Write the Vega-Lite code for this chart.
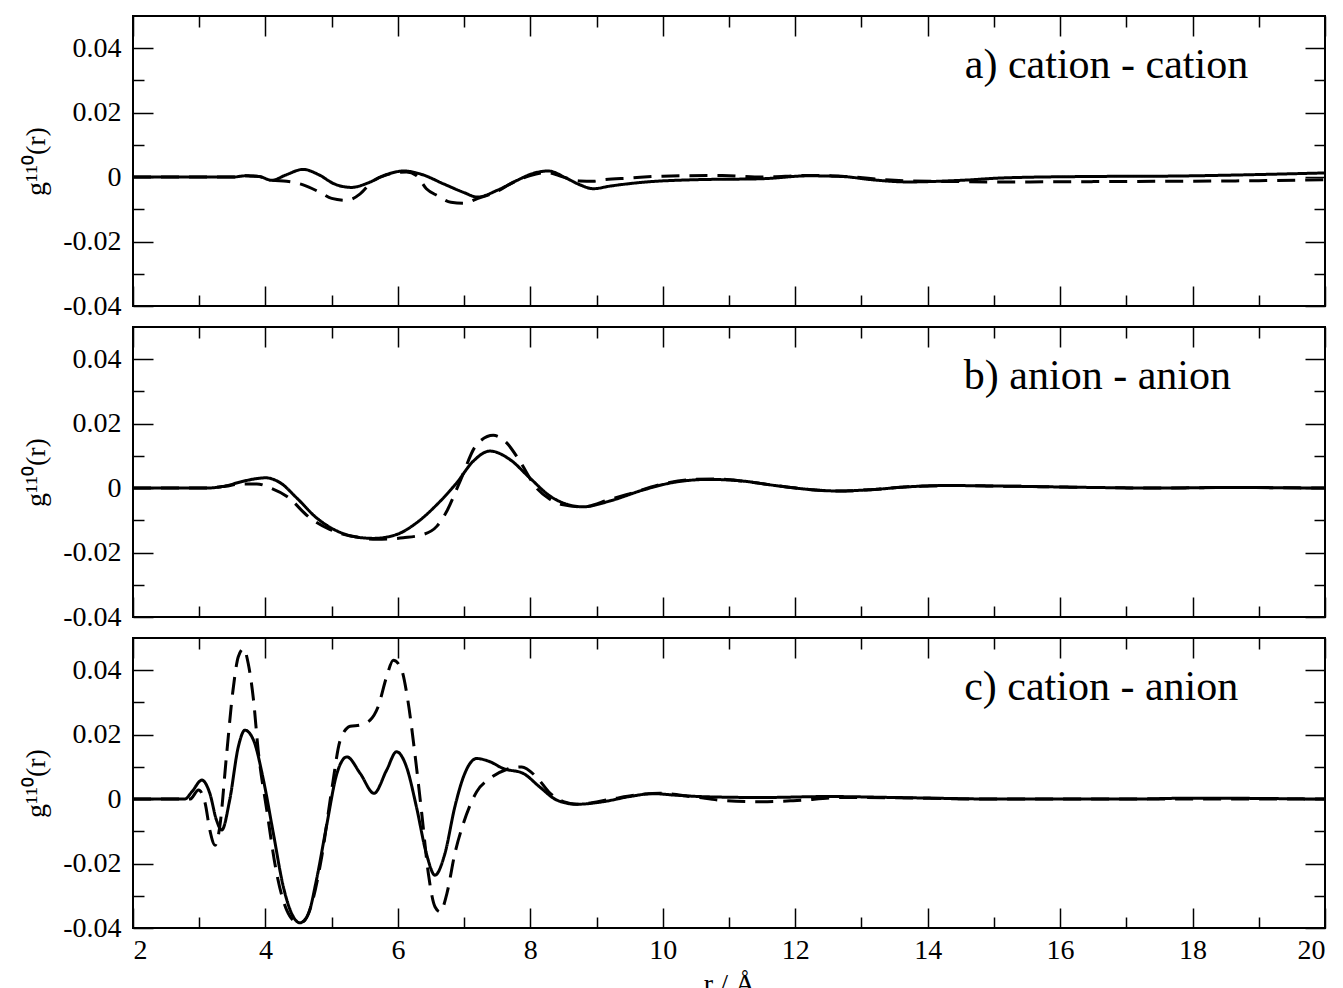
{
"$schema":"https://vega.github.io/schema/vega-lite/v6.json",
"padding":{"left":21,"top":14,"right":16,"bottom":10},
"background":"white",
"datasets":{
"labels":[
{"p":"a","label":"a) cation - cation","r":18.84,"g":0.0348},
{"p":"b","label":"b) anion - anion","r":18.58,"g":0.0348},
{"p":"c","label":"c) cation - anion","r":18.69,"g":0.0348}
],
"curves":[
{"p":"a","s":"solid","r":2,"g":0},{"p":"a","s":"solid","r":3.5,"g":0},{"p":"a","s":"solid","r":3.7,"g":0.0004},{"p":"a","s":"solid","r":3.9,"g":0.0002},{"p":"a","s":"solid","r":4.1,"g":-0.001},{"p":"a","s":"solid","r":4.3,"g":0.0006},{"p":"a","s":"solid","r":4.57,"g":0.0024},{"p":"a","s":"solid","r":4.8,"g":0.0008},{"p":"a","s":"solid","r":5.05,"g":-0.0022},{"p":"a","s":"solid","r":5.3,"g":-0.0032},{"p":"a","s":"solid","r":5.55,"g":-0.0018},{"p":"a","s":"solid","r":5.8,"g":0.0006},{"p":"a","s":"solid","r":6.1,"g":0.0019},{"p":"a","s":"solid","r":6.35,"g":0.0009},{"p":"a","s":"solid","r":6.7,"g":-0.0022},{"p":"a","s":"solid","r":7.0,"g":-0.0048},{"p":"a","s":"solid","r":7.2,"g":-0.0062},{"p":"a","s":"solid","r":7.5,"g":-0.0041},{"p":"a","s":"solid","r":7.8,"g":-0.001},{"p":"a","s":"solid","r":8.05,"g":0.0012},{"p":"a","s":"solid","r":8.27,"g":0.0019},{"p":"a","s":"solid","r":8.55,"g":-0.0004},{"p":"a","s":"solid","r":8.75,"g":-0.0024},{"p":"a","s":"solid","r":8.95,"g":-0.0036},{"p":"a","s":"solid","r":9.2,"g":-0.0028},{"p":"a","s":"solid","r":9.7,"g":-0.0016},{"p":"a","s":"solid","r":10.5,"g":-0.0008},{"p":"a","s":"solid","r":11.5,"g":-0.0005},{"p":"a","s":"solid","r":12.2,"g":0.0004},{"p":"a","s":"solid","r":12.7,"g":0.0002},{"p":"a","s":"solid","r":13.2,"g":-0.0009},{"p":"a","s":"solid","r":13.7,"g":-0.0015},{"p":"a","s":"solid","r":14.5,"g":-0.001},{"p":"a","s":"solid","r":15.2,"g":-0.0002},{"p":"a","s":"solid","r":16.5,"g":0.0002},{"p":"a","s":"solid","r":17.6,"g":0.0003},{"p":"a","s":"solid","r":19,"g":0.0008},{"p":"a","s":"solid","r":20,"g":0.0013},
{"p":"a","s":"dashed","r":2,"g":0},{"p":"a","s":"dashed","r":3.5,"g":0},{"p":"a","s":"dashed","r":3.7,"g":0.0004},{"p":"a","s":"dashed","r":3.9,"g":0.0002},{"p":"a","s":"dashed","r":4.1,"g":-0.001},{"p":"a","s":"dashed","r":4.32,"g":-0.0013},{"p":"a","s":"dashed","r":4.57,"g":-0.0024},{"p":"a","s":"dashed","r":4.82,"g":-0.0047},{"p":"a","s":"dashed","r":5.0,"g":-0.0066},{"p":"a","s":"dashed","r":5.23,"g":-0.0072},{"p":"a","s":"dashed","r":5.43,"g":-0.0052},{"p":"a","s":"dashed","r":5.6,"g":-0.0016},{"p":"a","s":"dashed","r":5.83,"g":0.0007},{"p":"a","s":"dashed","r":6.13,"g":0.0016},{"p":"a","s":"dashed","r":6.28,"g":0.0005},{"p":"a","s":"dashed","r":6.43,"g":-0.0036},{"p":"a","s":"dashed","r":6.6,"g":-0.0058},{"p":"a","s":"dashed","r":6.8,"g":-0.0078},{"p":"a","s":"dashed","r":7.0,"g":-0.0081},{"p":"a","s":"dashed","r":7.2,"g":-0.0067},{"p":"a","s":"dashed","r":7.5,"g":-0.0044},{"p":"a","s":"dashed","r":7.7,"g":-0.0021},{"p":"a","s":"dashed","r":8.0,"g":0.0005},{"p":"a","s":"dashed","r":8.25,"g":0.0014},{"p":"a","s":"dashed","r":8.5,"g":0},{"p":"a","s":"dashed","r":8.75,"g":-0.0012},{"p":"a","s":"dashed","r":8.95,"g":-0.0013},{"p":"a","s":"dashed","r":9.1,"g":-0.0008},{"p":"a","s":"dashed","r":9.5,"g":-0.0003},{"p":"a","s":"dashed","r":10.0,"g":0.0003},{"p":"a","s":"dashed","r":10.9,"g":0.0005},{"p":"a","s":"dashed","r":11.5,"g":0},{"p":"a","s":"dashed","r":12.2,"g":0.0005},{"p":"a","s":"dashed","r":12.7,"g":0.0003},{"p":"a","s":"dashed","r":13.5,"g":-0.001},{"p":"a","s":"dashed","r":14.5,"g":-0.0014},{"p":"a","s":"dashed","r":15.2,"g":-0.0015},{"p":"a","s":"dashed","r":16.5,"g":-0.0014},{"p":"a","s":"dashed","r":17.6,"g":-0.0013},{"p":"a","s":"dashed","r":19,"g":-0.0011},{"p":"a","s":"dashed","r":20,"g":-0.0008},
{"p":"b","s":"solid","r":2,"g":0},{"p":"b","s":"solid","r":3.1,"g":0},{"p":"b","s":"solid","r":3.4,"g":0.0007},{"p":"b","s":"solid","r":3.62,"g":0.0019},{"p":"b","s":"solid","r":3.85,"g":0.0029},{"p":"b","s":"solid","r":4.0,"g":0.0032},{"p":"b","s":"solid","r":4.22,"g":0.0017},{"p":"b","s":"solid","r":4.47,"g":-0.003},{"p":"b","s":"solid","r":4.77,"g":-0.0092},{"p":"b","s":"solid","r":5.08,"g":-0.0133},{"p":"b","s":"solid","r":5.38,"g":-0.0152},{"p":"b","s":"solid","r":5.63,"g":-0.0156},{"p":"b","s":"solid","r":5.98,"g":-0.0144},{"p":"b","s":"solid","r":6.28,"g":-0.0108},{"p":"b","s":"solid","r":6.59,"g":-0.0051},{"p":"b","s":"solid","r":6.89,"g":0.0017},{"p":"b","s":"solid","r":7.14,"g":0.0084},{"p":"b","s":"solid","r":7.39,"g":0.0115},{"p":"b","s":"solid","r":7.69,"g":0.0089},{"p":"b","s":"solid","r":7.99,"g":0.0032},{"p":"b","s":"solid","r":8.3,"g":-0.0025},{"p":"b","s":"solid","r":8.55,"g":-0.005},{"p":"b","s":"solid","r":8.8,"g":-0.0058},{"p":"b","s":"solid","r":9.2,"g":-0.004},{"p":"b","s":"solid","r":9.7,"g":-0.0006},{"p":"b","s":"solid","r":10.2,"g":0.0019},{"p":"b","s":"solid","r":10.7,"g":0.0027},{"p":"b","s":"solid","r":11.2,"g":0.0022},{"p":"b","s":"solid","r":11.7,"g":0.0008},{"p":"b","s":"solid","r":12.2,"g":-0.0004},{"p":"b","s":"solid","r":12.65,"g":-0.0009},{"p":"b","s":"solid","r":13.2,"g":-0.0004},{"p":"b","s":"solid","r":13.7,"g":0.0004},{"p":"b","s":"solid","r":14.3,"g":0.0008},{"p":"b","s":"solid","r":15.2,"g":0.0006},{"p":"b","s":"solid","r":16.5,"g":0.0002},{"p":"b","s":"solid","r":17.5,"g":0},{"p":"b","s":"solid","r":18.5,"g":0.0002},{"p":"b","s":"solid","r":20,"g":0},
{"p":"b","s":"dashed","r":2,"g":0},{"p":"b","s":"dashed","r":3.1,"g":0},{"p":"b","s":"dashed","r":3.4,"g":0.0006},{"p":"b","s":"dashed","r":3.62,"g":0.0013},{"p":"b","s":"dashed","r":3.87,"g":0.0013},{"p":"b","s":"dashed","r":4.07,"g":0.0001},{"p":"b","s":"dashed","r":4.32,"g":-0.0025},{"p":"b","s":"dashed","r":4.67,"g":-0.0092},{"p":"b","s":"dashed","r":4.97,"g":-0.0128},{"p":"b","s":"dashed","r":5.38,"g":-0.0152},{"p":"b","s":"dashed","r":5.68,"g":-0.0159},{"p":"b","s":"dashed","r":6.08,"g":-0.0154},{"p":"b","s":"dashed","r":6.38,"g":-0.0144},{"p":"b","s":"dashed","r":6.59,"g":-0.0118},{"p":"b","s":"dashed","r":6.74,"g":-0.0071},{"p":"b","s":"dashed","r":6.94,"g":0.0022},{"p":"b","s":"dashed","r":7.19,"g":0.0135},{"p":"b","s":"dashed","r":7.44,"g":0.0164},{"p":"b","s":"dashed","r":7.64,"g":0.0141},{"p":"b","s":"dashed","r":7.84,"g":0.0084},{"p":"b","s":"dashed","r":8.09,"g":0.0001},{"p":"b","s":"dashed","r":8.3,"g":-0.0035},{"p":"b","s":"dashed","r":8.5,"g":-0.0052},{"p":"b","s":"dashed","r":8.8,"g":-0.0058},{"p":"b","s":"dashed","r":9.2,"g":-0.0035},{"p":"b","s":"dashed","r":9.46,"g":-0.002},{"p":"b","s":"dashed","r":9.96,"g":0.0011},{"p":"b","s":"dashed","r":10.46,"g":0.0027},{"p":"b","s":"dashed","r":10.8,"g":0.0028},{"p":"b","s":"dashed","r":11.2,"g":0.0022},{"p":"b","s":"dashed","r":11.7,"g":0.0008},{"p":"b","s":"dashed","r":12.2,"g":-0.0004},{"p":"b","s":"dashed","r":12.65,"g":-0.0009},{"p":"b","s":"dashed","r":13.2,"g":-0.0004},{"p":"b","s":"dashed","r":13.7,"g":0.0004},{"p":"b","s":"dashed","r":14.3,"g":0.0008},{"p":"b","s":"dashed","r":15.2,"g":0.0006},{"p":"b","s":"dashed","r":16.5,"g":0.0002},{"p":"b","s":"dashed","r":17.5,"g":0},{"p":"b","s":"dashed","r":18.5,"g":0.0002},{"p":"b","s":"dashed","r":20,"g":0},
{"p":"c","s":"solid","r":2,"g":0},{"p":"c","s":"solid","r":2.78,"g":0},{"p":"c","s":"solid","r":2.89,"g":0.0023},{"p":"c","s":"solid","r":3.04,"g":0.0059},{"p":"c","s":"solid","r":3.16,"g":0.0018},{"p":"c","s":"solid","r":3.26,"g":-0.0065},{"p":"c","s":"solid","r":3.34,"g":-0.0096},{"p":"c","s":"solid","r":3.46,"g":-0.0003},{"p":"c","s":"solid","r":3.59,"g":0.0162},{"p":"c","s":"solid","r":3.69,"g":0.0214},{"p":"c","s":"solid","r":3.82,"g":0.0183},{"p":"c","s":"solid","r":3.97,"g":0.0059},{"p":"c","s":"solid","r":4.12,"g":-0.0107},{"p":"c","s":"solid","r":4.27,"g":-0.0272},{"p":"c","s":"solid","r":4.42,"g":-0.0365},{"p":"c","s":"solid","r":4.52,"g":-0.0384},{"p":"c","s":"solid","r":4.65,"g":-0.0355},{"p":"c","s":"solid","r":4.77,"g":-0.0251},{"p":"c","s":"solid","r":4.92,"g":-0.0086},{"p":"c","s":"solid","r":5.08,"g":0.008},{"p":"c","s":"solid","r":5.23,"g":0.0131},{"p":"c","s":"solid","r":5.43,"g":0.008},{"p":"c","s":"solid","r":5.64,"g":0.0018},{"p":"c","s":"solid","r":5.83,"g":0.009},{"p":"c","s":"solid","r":5.98,"g":0.0147},{"p":"c","s":"solid","r":6.13,"g":0.01},{"p":"c","s":"solid","r":6.28,"g":-0.0024},{"p":"c","s":"solid","r":6.43,"g":-0.0169},{"p":"c","s":"solid","r":6.56,"g":-0.0236},{"p":"c","s":"solid","r":6.71,"g":-0.0169},{"p":"c","s":"solid","r":6.86,"g":-0.0024},{"p":"c","s":"solid","r":6.99,"g":0.0069},{"p":"c","s":"solid","r":7.19,"g":0.0126},{"p":"c","s":"solid","r":7.39,"g":0.0116},{"p":"c","s":"solid","r":7.59,"g":0.0095},{"p":"c","s":"solid","r":7.89,"g":0.008},{"p":"c","s":"solid","r":8.14,"g":0.0038},{"p":"c","s":"solid","r":8.4,"g":-0.0003},{"p":"c","s":"solid","r":8.7,"g":-0.0016},{"p":"c","s":"solid","r":9.1,"g":-0.0008},{"p":"c","s":"solid","r":9.5,"g":0.0008},{"p":"c","s":"solid","r":9.85,"g":0.0017},{"p":"c","s":"solid","r":10.2,"g":0.0012},{"p":"c","s":"solid","r":10.7,"g":0.0007},{"p":"c","s":"solid","r":11.5,"g":0.0005},{"p":"c","s":"solid","r":12.5,"g":0.0008},{"p":"c","s":"solid","r":13.5,"g":0.0005},{"p":"c","s":"solid","r":15.2,"g":0},{"p":"c","s":"solid","r":17,"g":0},{"p":"c","s":"solid","r":18,"g":0.0003},{"p":"c","s":"solid","r":20,"g":0},
{"p":"c","s":"dashed","r":2,"g":0},{"p":"c","s":"dashed","r":2.86,"g":0},{"p":"c","s":"dashed","r":2.99,"g":0.0028},{"p":"c","s":"dashed","r":3.09,"g":-0.0013},{"p":"c","s":"dashed","r":3.16,"g":-0.0096},{"p":"c","s":"dashed","r":3.24,"g":-0.0143},{"p":"c","s":"dashed","r":3.31,"g":-0.0086},{"p":"c","s":"dashed","r":3.41,"g":0.0131},{"p":"c","s":"dashed","r":3.51,"g":0.0338},{"p":"c","s":"dashed","r":3.59,"g":0.0442},{"p":"c","s":"dashed","r":3.67,"g":0.0467},{"p":"c","s":"dashed","r":3.74,"g":0.0421},{"p":"c","s":"dashed","r":3.82,"g":0.0307},{"p":"c","s":"dashed","r":3.89,"g":0.0152},{"p":"c","s":"dashed","r":4.02,"g":-0.0034},{"p":"c","s":"dashed","r":4.17,"g":-0.0231},{"p":"c","s":"dashed","r":4.32,"g":-0.0344},{"p":"c","s":"dashed","r":4.47,"g":-0.038},{"p":"c","s":"dashed","r":4.57,"g":-0.038},{"p":"c","s":"dashed","r":4.7,"g":-0.0324},{"p":"c","s":"dashed","r":4.85,"g":-0.0179},{"p":"c","s":"dashed","r":5.0,"g":0.0028},{"p":"c","s":"dashed","r":5.13,"g":0.0183},{"p":"c","s":"dashed","r":5.28,"g":0.0226},{"p":"c","s":"dashed","r":5.43,"g":0.023},{"p":"c","s":"dashed","r":5.58,"g":0.0245},{"p":"c","s":"dashed","r":5.7,"g":0.0286},{"p":"c","s":"dashed","r":5.83,"g":0.038},{"p":"c","s":"dashed","r":5.93,"g":0.0431},{"p":"c","s":"dashed","r":6.05,"g":0.0405},{"p":"c","s":"dashed","r":6.15,"g":0.0307},{"p":"c","s":"dashed","r":6.25,"g":0.0152},{"p":"c","s":"dashed","r":6.36,"g":-0.0044},{"p":"c","s":"dashed","r":6.46,"g":-0.0231},{"p":"c","s":"dashed","r":6.56,"g":-0.0334},{"p":"c","s":"dashed","r":6.64,"g":-0.035},{"p":"c","s":"dashed","r":6.74,"g":-0.0293},{"p":"c","s":"dashed","r":6.86,"g":-0.0169},{"p":"c","s":"dashed","r":6.99,"g":-0.0075},{"p":"c","s":"dashed","r":7.19,"g":0.0023},{"p":"c","s":"dashed","r":7.39,"g":0.0064},{"p":"c","s":"dashed","r":7.64,"g":0.0092},{"p":"c","s":"dashed","r":7.87,"g":0.01},{"p":"c","s":"dashed","r":8.09,"g":0.0069},{"p":"c","s":"dashed","r":8.3,"g":0.0018},{"p":"c","s":"dashed","r":8.5,"g":-0.0008},{"p":"c","s":"dashed","r":8.7,"g":-0.0016},{"p":"c","s":"dashed","r":9.2,"g":-0.0001},{"p":"c","s":"dashed","r":9.56,"g":0.0012},{"p":"c","s":"dashed","r":9.96,"g":0.0018},{"p":"c","s":"dashed","r":10.46,"g":0.0007},{"p":"c","s":"dashed","r":10.96,"g":-0.0005},{"p":"c","s":"dashed","r":11.47,"g":-0.0008},{"p":"c","s":"dashed","r":11.97,"g":-0.0005},{"p":"c","s":"dashed","r":12.73,"g":0.0005},{"p":"c","s":"dashed","r":13.48,"g":0.0004},{"p":"c","s":"dashed","r":15,"g":0},{"p":"c","s":"dashed","r":17,"g":0},{"p":"c","s":"dashed","r":20,"g":0}
]
},
"spacing":4,
"vconcat":[
{"width":1192,"height":290,
 "layer":[
  {"data":{"name":"curves"},"transform":[{"filter":"datum.p==='a'"}],
   "mark":{"type":"line","interpolate":"monotone","strokeWidth":3,"color":"black"},
   "encoding":{
    "x":{"field":"r","type":"quantitative","scale":{"domain":[2,20],"nice":false,"zero":false},"axis":{"orient":"bottom","values":[2,4,6,8,10,12,14,16,18,20],"tickSize":-20,"labels":false,"title":null}},
    "y":{"field":"g","type":"quantitative","scale":{"domain":[-0.04,0.05],"nice":false,"zero":false},"axis":{"orient":"left","values":[-0.04,-0.02,0,0.02,0.04],"tickSize":-20,"labelPadding":32,"labelExpr":"datum.value == 0 ? '0' : (datum.value < 0 ? '-' + format(-datum.value, '.2f') : format(datum.value, '.2f'))","title":"g¹¹⁰(r)","titlePadding":12}},
    "strokeDash":{"field":"s","type":"nominal","scale":{"domain":["solid","dashed"],"range":[[1,0],[18,10]]},"legend":null}}},
  {"data":{"name":"labels"},"transform":[{"filter":"datum.p==='a'"}],
   "mark":{"type":"text","align":"right","baseline":"middle","font":"Liberation Serif","fontSize":42,"color":"black"},
   "encoding":{
    "x":{"field":"r","type":"quantitative","scale":{"domain":[2,20],"nice":false,"zero":false},"axis":{"orient":"top","values":[2,4,6,8,10,12,14,16,18,20],"tickSize":-20,"labels":false,"title":null}},
    "y":{"field":"g","type":"quantitative","scale":{"domain":[-0.04,0.05],"nice":false,"zero":false},"axis":{"orient":"right","values":[-0.04,-0.02,0,0.02,0.04],"tickSize":-20,"labels":false,"title":null}},
    "text":{"field":"label"}}},
  {"data":{"name":"labels"},"transform":[{"filter":"datum.p==='a'"}],
   "mark":{"type":"point","opacity":0},
   "encoding":{
    "x":{"field":"r","type":"quantitative","scale":{"domain":[2,20],"nice":false,"zero":false},"axis":{"orient":"bottom","values":[3,5,7,9,11,13,15,17,19],"tickSize":-11,"labels":false,"title":null}},
    "y":{"field":"g","type":"quantitative","scale":{"domain":[-0.04,0.05],"nice":false,"zero":false},"axis":{"orient":"left","values":[-0.03,-0.01,0.01,0.03],"tickSize":-11,"labels":false,"title":null}}}},
  {"data":{"name":"labels"},"transform":[{"filter":"datum.p==='a'"}],
   "mark":{"type":"point","opacity":0},
   "encoding":{
    "x":{"field":"r","type":"quantitative","scale":{"domain":[2,20],"nice":false,"zero":false},"axis":{"orient":"top","values":[3,5,7,9,11,13,15,17,19],"tickSize":-11,"labels":false,"title":null}},
    "y":{"field":"g","type":"quantitative","scale":{"domain":[-0.04,0.05],"nice":false,"zero":false},"axis":{"orient":"right","values":[-0.03,-0.01,0.01,0.03],"tickSize":-11,"labels":false,"title":null}}}}
 ],
 "resolve":{"axis":{"x":"independent","y":"independent"}}
},
{"width":1192,"height":290,
 "layer":[
  {"data":{"name":"curves"},"transform":[{"filter":"datum.p==='b'"}],
   "mark":{"type":"line","interpolate":"monotone","strokeWidth":3,"color":"black"},
   "encoding":{
    "x":{"field":"r","type":"quantitative","scale":{"domain":[2,20],"nice":false,"zero":false},"axis":{"orient":"bottom","values":[2,4,6,8,10,12,14,16,18,20],"tickSize":-20,"labels":false,"title":null}},
    "y":{"field":"g","type":"quantitative","scale":{"domain":[-0.04,0.05],"nice":false,"zero":false},"axis":{"orient":"left","values":[-0.04,-0.02,0,0.02,0.04],"tickSize":-20,"labelPadding":32,"labelExpr":"datum.value == 0 ? '0' : (datum.value < 0 ? '-' + format(-datum.value, '.2f') : format(datum.value, '.2f'))","title":"g¹¹⁰(r)","titlePadding":12}},
    "strokeDash":{"field":"s","type":"nominal","scale":{"domain":["solid","dashed"],"range":[[1,0],[18,10]]},"legend":null}}},
  {"data":{"name":"labels"},"transform":[{"filter":"datum.p==='b'"}],
   "mark":{"type":"text","align":"right","baseline":"middle","font":"Liberation Serif","fontSize":42,"color":"black"},
   "encoding":{
    "x":{"field":"r","type":"quantitative","scale":{"domain":[2,20],"nice":false,"zero":false},"axis":{"orient":"top","values":[2,4,6,8,10,12,14,16,18,20],"tickSize":-20,"labels":false,"title":null}},
    "y":{"field":"g","type":"quantitative","scale":{"domain":[-0.04,0.05],"nice":false,"zero":false},"axis":{"orient":"right","values":[-0.04,-0.02,0,0.02,0.04],"tickSize":-20,"labels":false,"title":null}},
    "text":{"field":"label"}}},
  {"data":{"name":"labels"},"transform":[{"filter":"datum.p==='b'"}],
   "mark":{"type":"point","opacity":0},
   "encoding":{
    "x":{"field":"r","type":"quantitative","scale":{"domain":[2,20],"nice":false,"zero":false},"axis":{"orient":"bottom","values":[3,5,7,9,11,13,15,17,19],"tickSize":-11,"labels":false,"title":null}},
    "y":{"field":"g","type":"quantitative","scale":{"domain":[-0.04,0.05],"nice":false,"zero":false},"axis":{"orient":"left","values":[-0.03,-0.01,0.01,0.03],"tickSize":-11,"labels":false,"title":null}}}},
  {"data":{"name":"labels"},"transform":[{"filter":"datum.p==='b'"}],
   "mark":{"type":"point","opacity":0},
   "encoding":{
    "x":{"field":"r","type":"quantitative","scale":{"domain":[2,20],"nice":false,"zero":false},"axis":{"orient":"top","values":[3,5,7,9,11,13,15,17,19],"tickSize":-11,"labels":false,"title":null}},
    "y":{"field":"g","type":"quantitative","scale":{"domain":[-0.04,0.05],"nice":false,"zero":false},"axis":{"orient":"right","values":[-0.03,-0.01,0.01,0.03],"tickSize":-11,"labels":false,"title":null}}}}
 ],
 "resolve":{"axis":{"x":"independent","y":"independent"}}
},
{"width":1192,"height":290,
 "layer":[
  {"data":{"name":"curves"},"transform":[{"filter":"datum.p==='c'"}],
   "mark":{"type":"line","interpolate":"monotone","strokeWidth":3,"color":"black"},
   "encoding":{
    "x":{"field":"r","type":"quantitative","scale":{"domain":[2,20],"nice":false,"zero":false},"axis":{"orient":"bottom","values":[2,4,6,8,10,12,14,16,18,20],"tickSize":-20,"labelPadding":28,"title":"r / Å","titleFontSize":28,"titlePadding":6}},
    "y":{"field":"g","type":"quantitative","scale":{"domain":[-0.04,0.05],"nice":false,"zero":false},"axis":{"orient":"left","values":[-0.04,-0.02,0,0.02,0.04],"tickSize":-20,"labelPadding":32,"labelExpr":"datum.value == 0 ? '0' : (datum.value < 0 ? '-' + format(-datum.value, '.2f') : format(datum.value, '.2f'))","title":"g¹¹⁰(r)","titlePadding":12}},
    "strokeDash":{"field":"s","type":"nominal","scale":{"domain":["solid","dashed"],"range":[[1,0],[18,10]]},"legend":null}}},
  {"data":{"name":"labels"},"transform":[{"filter":"datum.p==='c'"}],
   "mark":{"type":"text","align":"right","baseline":"middle","font":"Liberation Serif","fontSize":42,"color":"black"},
   "encoding":{
    "x":{"field":"r","type":"quantitative","scale":{"domain":[2,20],"nice":false,"zero":false},"axis":{"orient":"top","values":[2,4,6,8,10,12,14,16,18,20],"tickSize":-20,"labels":false,"title":null}},
    "y":{"field":"g","type":"quantitative","scale":{"domain":[-0.04,0.05],"nice":false,"zero":false},"axis":{"orient":"right","values":[-0.04,-0.02,0,0.02,0.04],"tickSize":-20,"labels":false,"title":null}},
    "text":{"field":"label"}}},
  {"data":{"name":"labels"},"transform":[{"filter":"datum.p==='c'"}],
   "mark":{"type":"point","opacity":0},
   "encoding":{
    "x":{"field":"r","type":"quantitative","scale":{"domain":[2,20],"nice":false,"zero":false},"axis":{"orient":"bottom","values":[3,5,7,9,11,13,15,17,19],"tickSize":-11,"labels":false,"title":null}},
    "y":{"field":"g","type":"quantitative","scale":{"domain":[-0.04,0.05],"nice":false,"zero":false},"axis":{"orient":"left","values":[-0.03,-0.01,0.01,0.03],"tickSize":-11,"labels":false,"title":null}}}},
  {"data":{"name":"labels"},"transform":[{"filter":"datum.p==='c'"}],
   "mark":{"type":"point","opacity":0},
   "encoding":{
    "x":{"field":"r","type":"quantitative","scale":{"domain":[2,20],"nice":false,"zero":false},"axis":{"orient":"top","values":[3,5,7,9,11,13,15,17,19],"tickSize":-11,"labels":false,"title":null}},
    "y":{"field":"g","type":"quantitative","scale":{"domain":[-0.04,0.05],"nice":false,"zero":false},"axis":{"orient":"right","values":[-0.03,-0.01,0.01,0.03],"tickSize":-11,"labels":false,"title":null}}}}
 ],
 "resolve":{"axis":{"x":"independent","y":"independent"}}
}
],
"config":{
 "view":{"stroke":"black","strokeWidth":2},
 "font":"Liberation Serif",
 "axis":{"domain":false,"grid":false,"tickColor":"black","tickWidth":1.5,"labelFont":"Liberation Serif","labelFontSize":28,"labelColor":"black","titleFont":"Liberation Serif","titleFontSize":28,"titleFontWeight":"normal","titleColor":"black"}
}
}
